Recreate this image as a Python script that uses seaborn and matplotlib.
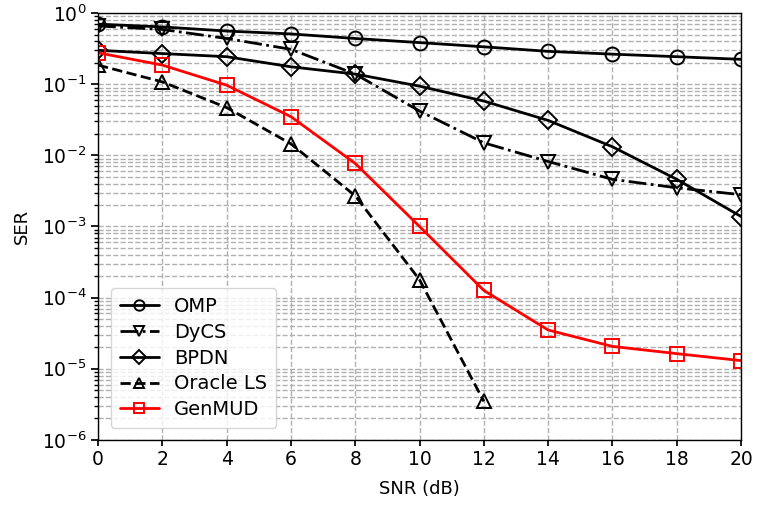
import numpy as np
import pandas as pd
import matplotlib
matplotlib.use("Agg")
import matplotlib.pyplot as plt
import seaborn as sns
from matplotlib.ticker import LogLocator, NullFormatter

snr = [0, 2, 4, 6, 8, 10, 12, 14, 16, 18, 20]
omp = [0.70, 0.64, 0.56, 0.51, 0.44, 0.385, 0.336, 0.29, 0.265, 0.244, 0.224]
dycs = [0.66, 0.59, 0.44, 0.31, 0.139, 0.042, 0.015, 0.0082, 0.0046, 0.0035, 0.0028]
bpdn = [0.30, 0.27, 0.244, 0.176, 0.139, 0.094, 0.058, 0.031, 0.0132, 0.0046, 0.00138]
oracle_snr = [0, 2, 4, 6, 8, 10, 12]
oracle = [0.186, 0.108, 0.047, 0.0145, 0.0027, 1.78e-4, 3.47e-6]
genmud = [0.277, 0.186, 0.097, 0.035, 0.0077, 1.0e-3, 1.26e-4, 3.5e-5, 2.06e-5, 1.63e-5, 1.3e-5]

sns.set_theme(style="white")
plt.rcParams['font.family'] = ['DejaVu Sans']
plt.rcParams.update({
    "xtick.direction": "out", "ytick.direction": "out",
    "xtick.major.size": 4, "ytick.major.size": 5,
    "ytick.minor.size": 3,
    "xtick.bottom": True, "ytick.left": True,
    "ytick.minor.visible": True,
    "text.color": "black", "axes.labelcolor": "black",
    "xtick.color": "black", "ytick.color": "black",
})

fig = plt.figure(figsize=(7.57, 5.05), dpi=100)
ax = fig.add_axes([0.1295, 0.129, 0.8495, 0.845])

series = [
    ("OMP", snr, omp, "o", "-", "black"),
    ("DyCS", snr, dycs, "v", "-.", "black"),
    ("BPDN", snr, bpdn, "D", "-", "black"),
    ("Oracle LS", oracle_snr, oracle, "^", "--", "black"),
    ("GenMUD", snr, genmud, "s", "-", "red"),
]
for name, xs, ys, mk, ls, col in series:
    sns.lineplot(x=xs, y=ys, ax=ax, marker=mk, linestyle=ls, color=col,
                 linewidth=2.0, markersize=10 if mk != "D" else 9,
                 markerfacecolor="none", markeredgecolor=col,
                 markeredgewidth=1.4, label=name)

ax.set_yscale("log")
ax.set_xlim(0, 20)
ax.set_ylim(1e-6, 1)
ax.set_xticks(range(0, 21, 2))
ax.yaxis.set_major_locator(LogLocator(base=10, numticks=10))
ax.yaxis.set_minor_locator(LogLocator(base=10, subs=np.arange(2, 10), numticks=20))
ax.yaxis.set_minor_formatter(NullFormatter())
ax.grid(True, which="major", linestyle="--", color="#b0b0b0", linewidth=1)
ax.grid(True, which="minor", axis="y", linestyle="--", color="#b0b0b0", linewidth=1)
for s in ax.spines.values():
    s.set_color("black")
    s.set_linewidth(1.0)
ax.tick_params(labelsize=13.5, colors="black")
ax.tick_params(which="minor", colors="black")
ax.set_xlabel("SNR (dB)", fontsize=13, labelpad=8, color="black")
ax.set_ylabel("SER", fontsize=13, labelpad=8, color="black")
leg = ax.legend(loc="lower left", fontsize=14, frameon=True, handlelength=2.0,
                borderpad=0.45, labelspacing=0.35, markerscale=0.75,
                bbox_to_anchor=(0.005, 0.005))
leg.get_frame().set_edgecolor("#cccccc")
for t in leg.get_texts():
    t.set_color("black")
fig.savefig("out.png", dpi=100)
